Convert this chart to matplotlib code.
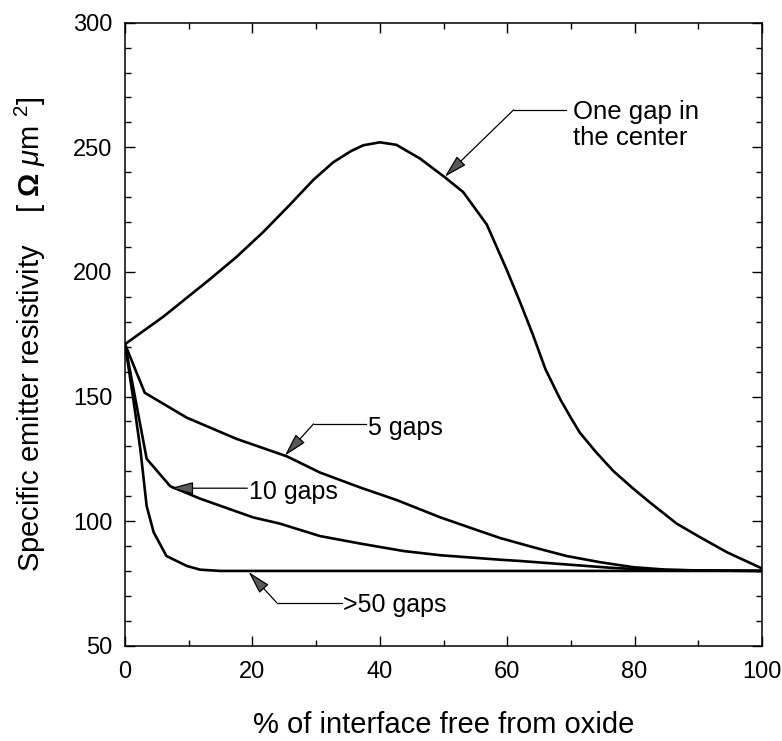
import matplotlib
matplotlib.use("Agg")
import matplotlib.pyplot as plt
from matplotlib.ticker import MultipleLocator

plt.rcParams['font.family'] = ['Liberation Sans', 'DejaVu Sans']
plt.rcParams['mathtext.fontset'] = 'custom'
plt.rcParams['mathtext.rm'] = 'Liberation Sans'
plt.rcParams['mathtext.it'] = 'Liberation Sans:italic'
plt.rcParams['mathtext.bf'] = 'Liberation Sans:bold'

# one gap in the center
x_one = [0, 6, 13.3, 17.5, 21.7, 25.9, 29.6, 32.7, 35.5, 37.4, 40, 42.6, 46.3, 50.2, 53.1,
         56.8, 59.9, 62, 64, 66, 68.3, 70.1, 71.4, 74, 76.7, 79.8, 82.4, 86.6, 90.3, 94.5, 100]
y_one = [171, 182, 197, 206, 216, 227, 237, 244, 248.5, 250.8, 252, 251, 245.5, 238, 232,
         219, 201, 188, 175, 161, 149, 141, 135.5, 127.5, 120, 113, 107.5, 99, 93.5, 87.5, 81]

# 5 gaps
x_5 = [0, 3.1, 9.7, 17.5, 25.4, 30.6, 36.9, 42.6, 49.5, 55.7, 58.9, 62, 64.1, 69.3,
       74.6, 79.8, 85, 90, 100]
y_5 = [171, 151.5, 141.5, 133, 126, 119.5, 113.5, 108.5, 101.5, 96, 93.2, 91, 89.5, 86,
       83.5, 81.5, 80.5, 80.2, 80]

# 10 gaps
x_10 = [0, 3.4, 7.1, 11.8, 20.1, 24.3, 30.6, 36.9, 43.7, 49.5, 58.9, 62, 69.3, 76.1, 82, 90, 100]
y_10 = [171, 125, 114, 109, 101.5, 99, 94, 91, 88, 86.3, 84.5, 84, 82.6, 81.3, 80.5, 80.2, 80]

# >50 gaps
x_50 = [0, 1.3, 2.4, 3.4, 4.5, 6.5, 9.7, 11.8, 15, 30, 60, 100]
y_50 = [171, 149, 129, 106, 95.5, 86, 82, 80.5, 80, 80, 80, 80]

fig = plt.figure(figsize=(7.82, 7.41), dpi=100)
ax = fig.add_axes([125/782, 1 - 645.7/741, 637/782, 623/741])

for xs, ys in [(x_one, y_one), (x_5, y_5), (x_10, y_10), (x_50, y_50)]:
    ax.plot(xs, ys, color='black', lw=1.9)

ax.set_xlim(0, 100)
ax.set_ylim(50, 300)
ax.xaxis.set_major_locator(MultipleLocator(20))
ax.xaxis.set_minor_locator(MultipleLocator(10))
ax.yaxis.set_major_locator(MultipleLocator(50))
ax.yaxis.set_minor_locator(MultipleLocator(10))
ax.tick_params(which='both', direction='in', top=True, right=True, width=1.0)
ax.tick_params(which='major', length=7)
ax.tick_params(which='minor', length=4)
ax.tick_params(axis='x', which='major', labelsize=17, pad=11)
ax.tick_params(axis='y', which='major', labelsize=17, pad=9)
for s in ax.spines.values():
    s.set_linewidth(1.1)

ax.set_xlabel('% of interface free from oxide', fontsize=21, labelpad=20)
ax.set_ylabel(r'Specific emitter resistivity    [ $\mathbf{\Omega}$ $\mathit{\mu}$m $^{2}$]',
              fontsize=21, labelpad=18)

arrow = dict(arrowstyle='-|>,head_length=1.3,head_width=0.35', lw=0.9,
             fc='0.35', ec='black', mutation_scale=11, shrinkA=0, shrinkB=0)

# One gap in the center
ax.plot([61.0, 69.3], [265, 265], color='black', lw=0.9)
ax.annotate('', xy=(50.2, 238.2), xytext=(61.0, 265), arrowprops=arrow)
ax.text(70.3, 259, 'One gap in\nthe center', fontsize=18.5, ha='left', va='center',
        linespacing=1.1)

# 5 gaps
ax.plot([29.6, 37.9], [139, 139], color='black', lw=0.9)
ax.annotate('', xy=(25.1, 126.3), xytext=(29.6, 139), arrowprops=arrow)
ax.text(38.2, 137.5, '5 gaps', fontsize=18, ha='left', va='center')

# 10 gaps
ax.annotate('', xy=(7.1, 113.2), xytext=(19.2, 113.2), arrowprops=arrow)
ax.text(19.4, 111.8, '10 gaps', fontsize=18, ha='left', va='center')

# >50 gaps
ax.plot([23.8, 34.0], [67.3, 67.3], color='black', lw=0.9)
ax.annotate('', xy=(19.4, 79.6), xytext=(23.8, 67.3), arrowprops=arrow)
ax.text(34.3, 66.3, '>50 gaps', fontsize=18, ha='left', va='center')

fig.savefig('out.png', dpi=100)
